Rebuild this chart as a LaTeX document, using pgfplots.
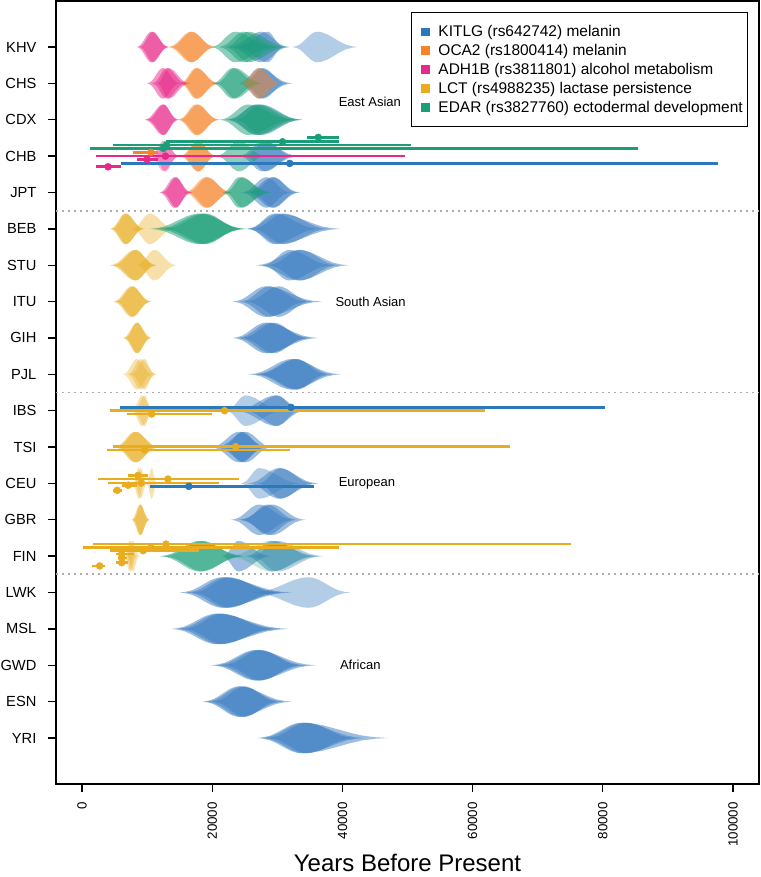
\documentclass[border=0pt]{standalone}
\usepackage{fontspec}
\setmainfont{Liberation Sans}
\usepackage{pgfplots}
\pgfplotsset{compat=1.18}

\definecolor{kitlg}{HTML}{3A7CC1}
\definecolor{kitlgD}{HTML}{2B78BA}
\definecolor{oca}{HTML}{F5832A}
\definecolor{adh}{HTML}{E7298A}
\definecolor{lct}{HTML}{E8AC1E}
\definecolor{edar}{HTML}{1B9E77}

% violin outline from (left end, mode, right end) in kyr, row position
\def\vh{0.42}
\newcommand\vioL[2]{(\fpeval{\vl+#1*(\vm-\vl)},\fpeval{\vy+#2*\vh})}
\newcommand\vioR[2]{(\fpeval{\vr-#1*(\vr-\vm)},\fpeval{\vy+#2*\vh})}
\newcommand\vio[6][0.5]{%
 \def\vl{#4}\def\vm{#5}\def\vr{#6}\def\vy{#3}%
 \edef\vtmp{\noexpand\addplot[forget plot,draw=none,fill=#2,fill opacity=#1] coordinates {%
 \vioL{0}{0}\vioL{0.15}{0.05}\vioL{0.3}{0.16}\vioL{0.45}{0.36}\vioL{0.6}{0.6}\vioL{0.75}{0.83}\vioL{0.9}{0.97}\vioL{1}{1}%
 \vioR{0.9}{0.97}\vioR{0.75}{0.83}\vioR{0.6}{0.6}\vioR{0.45}{0.36}\vioR{0.3}{0.16}\vioR{0.15}{0.05}\vioR{0}{0}%
 \vioR{0.15}{-0.05}\vioR{0.3}{-0.16}\vioR{0.45}{-0.36}\vioR{0.6}{-0.6}\vioR{0.75}{-0.83}\vioR{0.9}{-0.97}%
 \vioL{1}{-1}\vioL{0.9}{-0.97}\vioL{0.75}{-0.83}\vioL{0.6}{-0.6}\vioL{0.45}{-0.36}\vioL{0.3}{-0.16}\vioL{0.15}{-0.05}%
 };}\vtmp}

\pgfplotsset{ebar/.style={forget plot, only marks, mark=*, mark size=2.6pt, color=#1,
  error bars/.cd, x dir=both, x explicit, error mark=none,
  error bar style={line width=2pt, color=#1}}}
\newcommand\sq[1]{\addlegendimage{legend image code/.code={\path (0pt,0pt); \fill[#1] (6pt,-2.8pt) rectangle (11.6pt,2.8pt);}}}

\begin{document}
\begin{tikzpicture}
\begin{axis}[
  scale only axis, width=527.25pt, height=587.25pt,
  xmin=-4, xmax=104, ymin=-0.265, ymax=21.265,
  axis line style={line width=1pt},
  every tick/.style={black, line width=1pt},
  tick align=outside, major tick length=6pt,
  xtick pos=bottom, ytick pos=left,
  xtick={0,20,40,60,80,100},
  xticklabels={0,20000,40000,60000,80000,100000},
  xticklabel shift=7.5pt,
  xticklabel style={rotate=90, anchor=east, inner sep=0pt, font=\fontsize{10}{12}\selectfont},
  ytick={1,...,20},
  yticklabels={YRI,ESN,GWD,MSL,LWK,FIN,GBR,CEU,TSI,IBS,PJL,GIH,ITU,STU,BEB,JPT,CHB,CDX,CHS,KHV},
  yticklabel shift=8.5pt,
  yticklabel style={anchor=east, inner sep=0pt, font=\fontsize{11}{13}\selectfont},
  xlabel={Years Before Present},
  xlabel style={at={(0.5,0)}, anchor=base, yshift=-65.5pt, inner sep=0pt, font=\fontsize{18}{20}\selectfont},
  legend style={at={(1,1)}, anchor=north east, xshift=-8.25pt, yshift=-8.25pt,
    draw=black, line width=0.8pt, font=\fontsize{11.6}{13.5}\selectfont,
    inner xsep=1.5pt, inner ysep=7.5pt, row sep=0.3pt,
    /tikz/every odd column/.append style={column sep=4.5pt}},
  legend cell align=left,
]
\sq{kitlgD}\sq{oca}\sq{adh}\sq{lct}\sq{edar}
\legend{KITLG (rs642742) melanin, OCA2 (rs1800414) melanin, ADH1B (rs3811801) alcohol metabolism, LCT (rs4988235) lactase persistence, EDAR (rs3827760) ectodermal development}

% separators
\addplot[forget plot, gray!65, line width=1.3pt, dash pattern=on 1.3pt off 3.2pt] coordinates {(-4,15.5) (104,15.5)};
\addplot[forget plot, gray!65, line width=1.3pt, dash pattern=on 1.3pt off 3.2pt] coordinates {(-4,10.5) (104,10.5)};
\addplot[forget plot, gray!65, line width=1.3pt, dash pattern=on 1.3pt off 3.2pt] coordinates {(-4,5.5) (104,5.5)};

% ---- KHV (20)
\vio{kitlg}{20}{22.5}{27.5}{31.8}\vio{kitlg}{20}{23.5}{28.5}{31.0}
\vio[0.38]{kitlg}{20}{32.3}{36.1}{42.4}
\vio{oca}{20}{13.2}{16.7}{20.6}\vio{oca}{20}{13.6}{16.9}{20.3}
\vio{adh}{20}{8.4}{10.6}{13.4}\vio{adh}{20}{8.8}{10.9}{13.2}
\vio{edar}{20}{19.8}{23.5}{29.5}\vio{edar}{20}{21.0}{24.8}{30.5}\vio{edar}{20}{22.0}{25.5}{31.8}
% ---- CHS (19)
\vio{kitlg}{19}{24.1}{27.2}{32.3}\vio{kitlg}{19}{24.5}{27.8}{31.5}
\vio{oca}{19}{15.0}{17.5}{21.1}\vio{oca}{19}{15.3}{17.7}{20.8}
\vio{adh}{19}{10.0}{12.4}{15.0}\vio{adh}{19}{10.8}{13.0}{16.0}\vio{adh}{19}{11.5}{13.3}{16.5}
\vio{edar}{19}{20.0}{23.1}{27.2}\vio{edar}{19}{20.5}{23.5}{27.8}
\vio{oca}{19}{24.4}{27.2}{30.5}
% ---- CDX (18)
\vio{kitlg}{18}{22.0}{27.0}{33.8}
\vio{oca}{18}{14.7}{17.5}{21.1}\vio{oca}{18}{15.0}{17.8}{21.0}
\vio{adh}{18}{9.6}{12.4}{14.9}\vio{adh}{18}{10.0}{12.6}{14.6}
\vio{edar}{18}{21.1}{25.5}{32.5}\vio{edar}{18}{22.5}{26.7}{33.0}\vio{edar}{18}{23.5}{27.5}{33.8}
% ---- CHB (17)
\vio{kitlg}{17}{24.1}{27.7}{33.3}\vio{kitlg}{17}{24.8}{28.2}{32.5}
\vio{oca}{17}{15.0}{17.8}{20.6}\vio{oca}{17}{15.3}{17.9}{20.5}
\vio[0.35]{adh}{17}{10.5}{12.5}{15.0}\vio[0.35]{adh}{17}{11.0}{12.8}{14.8}
\vio{edar}{17}{20.6}{24.1}{28.2}
% ---- JPT (16)
\vio{kitlg}{16}{24.5}{28.3}{32.0}\vio{kitlg}{16}{25.1}{29.2}{33.5}\vio{kitlg}{16}{25.8}{29.5}{33.0}
\vio{oca}{16}{15.7}{19.0}{23.1}\vio{oca}{16}{16.2}{19.3}{22.8}
\vio{adh}{16}{11.9}{14.2}{16.9}\vio{adh}{16}{12.3}{14.5}{16.5}
\vio{edar}{16}{21.6}{24.1}{29.2}\vio{edar}{16}{22.0}{24.6}{28.5}
% ---- BEB (15)
\vio{kitlg}{15}{25.2}{30.2}{39.7}\vio{kitlg}{15}{26.0}{31.0}{38.0}\vio{kitlg}{15}{25.5}{29.5}{36.5}
\vio{lct}{15}{4.3}{6.6}{9.6}\vio{lct}{15}{4.6}{6.8}{9.4}
\vio[0.38]{lct}{15}{7.6}{10.4}{14.2}
\vio{edar}{15}{10.4}{18.0}{25.2}\vio{edar}{15}{11.5}{18.5}{25.0}\vio{edar}{15}{12.5}{19.0}{24.5}
% ---- STU (14)
\vio{kitlg}{14}{26.7}{33.3}{40.9}\vio{kitlg}{14}{27.7}{31.8}{38.5}\vio{kitlg}{14}{28.5}{33.5}{39.5}
\vio{lct}{14}{4.3}{8.1}{11.5}\vio{lct}{14}{4.8}{8.3}{11.2}
\vio[0.38]{lct}{14}{8.4}{11.1}{14.5}
% ---- ITU (13)
\vio{kitlg}{13}{23.1}{28.2}{36.8}\vio{kitlg}{13}{25.1}{30.2}{35.3}\vio{kitlg}{13}{24.2}{28.8}{34.5}
\vio{lct}{13}{4.8}{7.6}{10.7}\vio{lct}{13}{5.2}{7.8}{10.4}
% ---- GIH (12)
\vio{kitlg}{12}{23.1}{28.2}{36.3}\vio{kitlg}{12}{23.8}{28.8}{35.2}\vio{kitlg}{12}{24.5}{29.5}{34.5}
\vio{lct}{12}{6.3}{8.4}{10.7}\vio{lct}{12}{6.6}{8.5}{10.4}
% ---- PJL (11)
\vio{kitlg}{11}{25.6}{32.2}{39.7}\vio{kitlg}{11}{26.5}{32.8}{38.5}\vio{kitlg}{11}{27.0}{33.0}{37.5}
\vio[0.35]{lct}{11}{6.3}{8.4}{10.8}\vio[0.35]{lct}{11}{7.0}{9.0}{11.5}\vio[0.35]{lct}{11}{7.5}{9.6}{11.2}
% ---- IBS (10)
\vio[0.38]{kitlg}{10}{22.1}{25.1}{31.0}\vio{kitlg}{10}{23.5}{29.7}{34.3}\vio{kitlg}{10}{25.0}{30.0}{33.5}
\vio[0.35]{lct}{10}{7.6}{9.2}{11.1}\vio[0.35]{lct}{10}{8.0}{9.6}{10.8}
% ---- TSI (9)
\vio{kitlg}{9}{19.8}{24.1}{28.5}\vio{kitlg}{9}{20.5}{25.1}{29.2}\vio{kitlg}{9}{21.5}{24.6}{28.0}
\vio{lct}{9}{5.0}{8.1}{11.9}\vio{lct}{9}{5.4}{8.3}{11.5}
% ---- CEU (8)
\vio[0.38]{kitlg}{8}{24.4}{27.2}{33.5}\vio{kitlg}{8}{25.5}{30.2}{36.3}\vio{kitlg}{8}{27.0}{30.5}{35.5}
\vio[0.35]{lct}{8}{7.8}{8.7}{9.6}\vio[0.35]{lct}{8}{9.9}{10.7}{11.5}\vio[0.35]{lct}{8}{8.0}{9.0}{10.0}
% ---- GBR (7)
\vio{kitlg}{7}{22.9}{27.2}{32.5}\vio{kitlg}{7}{24.0}{29.2}{34.3}\vio{kitlg}{7}{24.5}{28.5}{33.0}
\vio{lct}{7}{7.6}{8.9}{10.4}\vio{lct}{7}{7.9}{9.0}{10.2}
% ---- FIN (6)
\vio{kitlg}{6}{21.5}{24.0}{29.0}\vio{kitlg}{6}{25.1}{29.2}{35.8}\vio[0.38]{kitlg}{6}{26.0}{30.0}{37.0}
\vio[0.35]{lct}{6}{6.8}{7.5}{8.4}\vio[0.35]{lct}{6}{7.0}{7.8}{8.8}\vio[0.35]{lct}{6}{6.5}{7.3}{8.0}
\vio{edar}{6}{11.9}{18.0}{25.1}\vio{edar}{6}{12.5}{18.5}{24.5}\vio[0.25]{edar}{6}{22.5}{29.0}{36.5}
% ---- LWK (5)
\vio{kitlg}{5}{15.0}{21.5}{32.2}\vio{kitlg}{5}{16.0}{22.0}{31.0}\vio{kitlg}{5}{17.0}{22.5}{30.0}
\vio[0.38]{kitlg}{5}{26.1}{34.8}{41.2}
% ---- MSL (4)
\vio{kitlg}{4}{13.7}{20.6}{31.8}\vio{kitlg}{4}{14.5}{21.0}{30.5}\vio{kitlg}{4}{15.5}{21.5}{29.5}
% ---- GWD (3)
\vio{kitlg}{3}{19.8}{26.7}{35.9}\vio{kitlg}{3}{20.5}{27.0}{34.5}\vio{kitlg}{3}{21.5}{27.5}{33.5}
% ---- ESN (2)
\vio{kitlg}{2}{18.5}{24.1}{32.2}\vio{kitlg}{2}{19.0}{24.5}{31.0}\vio{kitlg}{2}{20.0}{25.0}{30.0}
% ---- YRI (1)
\vio{kitlg}{1}{26.9}{33.7}{47.0}\vio{kitlg}{1}{27.5}{34.0}{43.5}\vio{kitlg}{1}{28.5}{34.5}{42.0}

% ---- point estimates with intervals
\addplot[ebar=edar] coordinates {
 (36.3,17.514) += (3.1,0) -= (1.7,0)
 (30.8,17.393) += (8.6,0) -= (17.9,0)
 (13.0,17.303) += (37.5,0) -= (8.2,0)
 (12.5,17.212) += (72.9,0) -= (11.2,0)
};
\addplot[ebar=oca] coordinates {
 (10.6,17.102) += (1.0,0) -= (2.7,0)
};
\addplot[ebar=adh] coordinates {
 (12.8,17.0) += (36.8,0) -= (10.7,0)
 (10.0,16.909) += (1.6,0) -= (1.6,0)
 (4.0,16.706) += (2.0,0) -= (1.9,0)
};
\addplot[ebar=kitlgD] coordinates {
 (31.9,16.799) += (65.8,0) -= (25.9,0)
 (32.1,10.09) += (48.2,0) -= (26.3,0)
 (16.4,7.92) += (19.2,0) -= (6.0,0)
};
\addplot[ebar=lct] coordinates {
 (21.9,10.0) += (40.0,0) -= (17.6,0)
 (10.7,9.91) += (9.3,0) -= (3.8,0)
 (23.6,9.01) += (42.2,0) -= (18.8,0)
 (9.6,8.92) += (22.4,0) -= (5.7,0)
 (8.6,8.22) += (1.5,0) -= (1.5,0)
 (13.2,8.12) += (10.9,0) -= (10.7,0)
 (9.1,8.01) += (12.0,0) -= (5.1,0)
 (7.1,7.95) += (1.3,0) -= (1.0,0)
 (5.4,7.81) += (0.7,0) -= (0.7,0)
 (12.9,6.33) += (62.2,0) -= (11.2,0)
 (10.6,6.23) += (28.8,0) -= (10.5,0)
 (9.4,6.15) += (8.6,0) -= (5.1,0)
 (6.1,6.06) += (1.9,0) -= (0.9,0)
 (6.1,5.95) += (0.8,0) -= (0.6,0)
 (6.1,5.82) += (0.9,0) -= (0.9,0)
 (2.7,5.73) += (0.9,0) -= (1.1,0)
};

% group labels
\node[anchor=west, inner sep=0pt, font=\fontsize{9.75}{11}\selectfont] at (axis cs:39.4,18.49) {East Asian};
\node[anchor=west, inner sep=0pt, font=\fontsize{9.75}{11}\selectfont] at (axis cs:38.9,13) {South Asian};
\node[anchor=west, inner sep=0pt, font=\fontsize{9.75}{11}\selectfont] at (axis cs:39.4,8) {European};
\node[anchor=west, inner sep=0pt, font=\fontsize{9.75}{11}\selectfont] at (axis cs:39.6,3) {African};
\end{axis}
\pgfresetboundingbox
\useasboundingbox (-42pt,-69.75pt) rectangle (528pt,588pt);
\end{tikzpicture}
\end{document}
